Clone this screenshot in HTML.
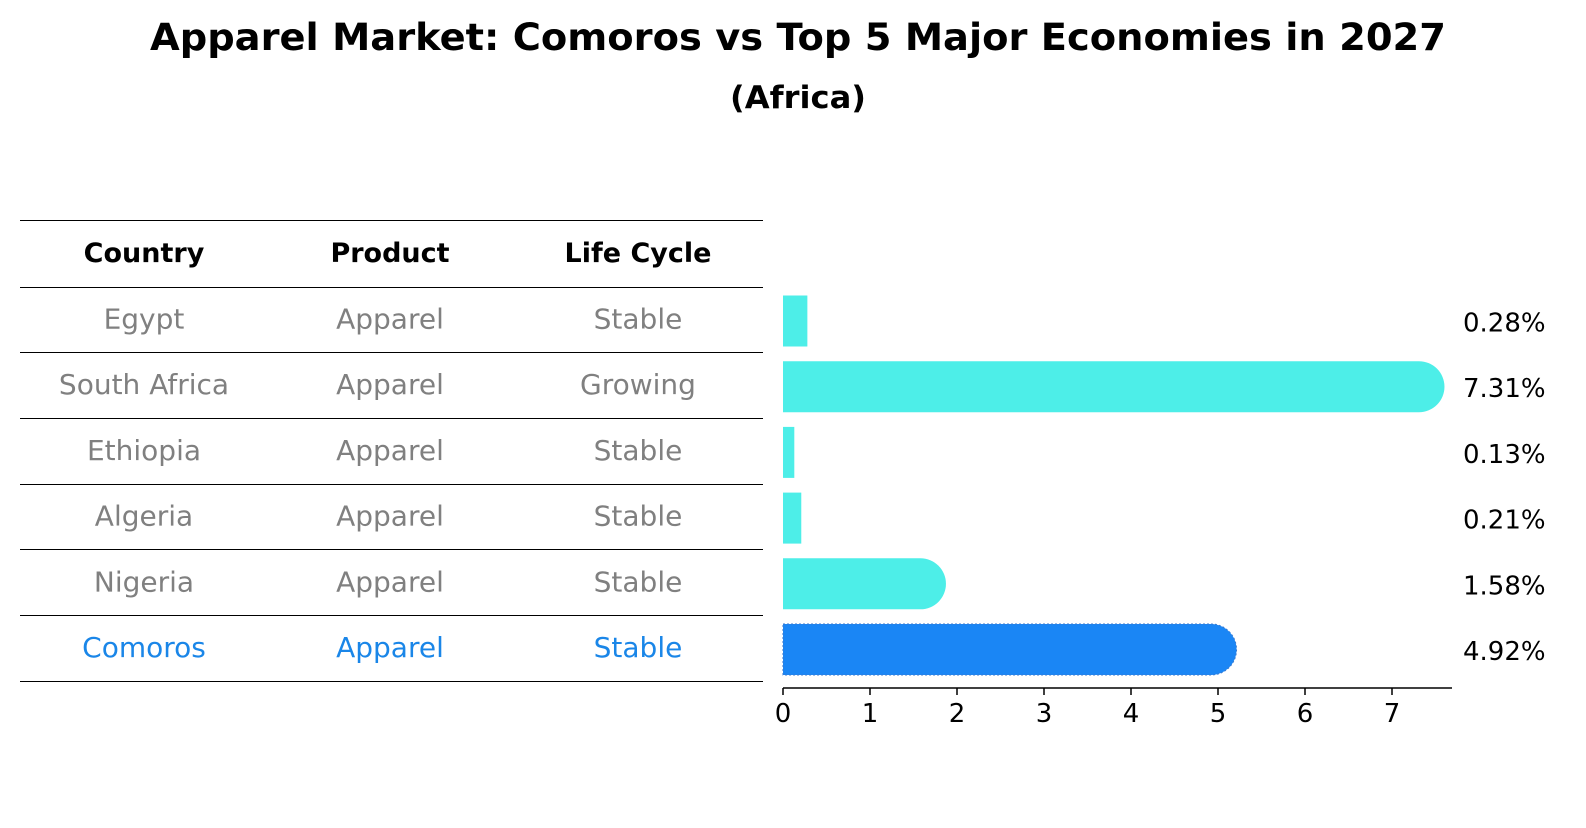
<!DOCTYPE html>
<html><head><meta charset="utf-8"><style>
body{margin:0;background:#fff;font-family:"Liberation Sans","DejaVu Sans",sans-serif;}
svg text{font-family:"DejaVu Sans","Liberation Sans",sans-serif;}
</style></head><body>
<svg id="c" width="1586" height="823" xmlns="http://www.w3.org/2000/svg">
<text x="798" y="50" text-anchor="middle" font-size="37" font-weight="bold" textLength="1296" lengthAdjust="spacingAndGlyphs">Apparel Market: Comoros vs Top 5 Major Economies in 2027</text>
<text x="798" y="108" text-anchor="middle" font-size="31" font-weight="bold" textLength="136" lengthAdjust="spacingAndGlyphs">(Africa)</text>
<g id="table"></g>
<g id="bars"></g>
</svg>
<script>
const countries=["Egypt","South Africa","Ethiopia","Algeria","Nigeria","Comoros"];
const products=["Apparel","Apparel","Apparel","Apparel","Apparel","Apparel"];
const lifeCycles=["Stable","Growing","Stable","Stable","Stable","Stable"];
const shares=[0.28,7.31,0.13,0.21,1.58,4.92];
const shareLabels=["0.28%","7.31%","0.13%","0.21%","1.58%","4.92%"];
const xTicks=[0,1,2,3,4,5,6,7];
const NS="http://www.w3.org/2000/svg";
function mk(t,a,p){const e=document.createElementNS(NS,t);for(const k in a)e.setAttribute(k,a[k]);p.appendChild(e);return e;}
const x=v=>783+v*87;
const rowY=i=>319.5+i*65.7;
const tb=document.getElementById('table'),bg=document.getElementById('bars');
const cols=[144,390,638];
const lineYs=[220.5,287.5];
for(let i=0;i<countries.length;i++)lineYs.push(Math.round(rowY(i)+32.8)+0.5);
lineYs.forEach(y=>{const l=mk('line',{x1:20,x2:763,y1:y,y2:y,stroke:'#000','stroke-width':1},tb);

});
["Country","Product","Life Cycle"].forEach((h,j)=>{const t=mk('text',{x:cols[j],y:262,'text-anchor':'middle','font-size':27,'font-weight':'bold'},tb);t.textContent=h;

});
countries.forEach((c,i)=>{const col=i===5?'#1a86e8':'#808080';
[c,products[i],lifeCycles[i]].forEach((v,j)=>{const t=mk('text',{x:cols[j],y:rowY(i)+9,'text-anchor':'middle','font-size':28,fill:col},tb);t.textContent=v;

});
const h=51,y0=rowY(i)+1.5-h/2,w=x(shares[i])-x(0),fill=i===5?'#1a86f5':'#4deee8';
let el;
if(shares[i]>1){const r=h/2;el=mk('path',{d:`M${x(0)} ${y0}H${x(shares[i])}a${r} ${r} 0 0 1 0 ${h}H${x(0)}Z`,fill:fill},bg);}
else el=mk('rect',{x:x(0),y:y0,width:w,height:h,fill:fill},bg);
if(i===5){el.setAttribute('stroke','#3a7ad0');el.setAttribute('stroke-dasharray','2 2');el.setAttribute('stroke-width','1');}


const t=mk('text',{x:1463,y:rowY(i)+12,'font-size':26},bg);t.textContent=shareLabels[i];

});
const ax=mk('line',{x1:783,x2:1452,y1:688,y2:688,stroke:'#000','stroke-width':1.5},bg);


xTicks.forEach(v=>{const l=mk('line',{x1:x(v),x2:x(v),y1:688,y2:695,stroke:'#000','stroke-width':1.5},bg);


const t=mk('text',{x:x(v),y:722,'text-anchor':'middle','font-size':26},bg);t.textContent=v;

});
</script>
</body></html>
